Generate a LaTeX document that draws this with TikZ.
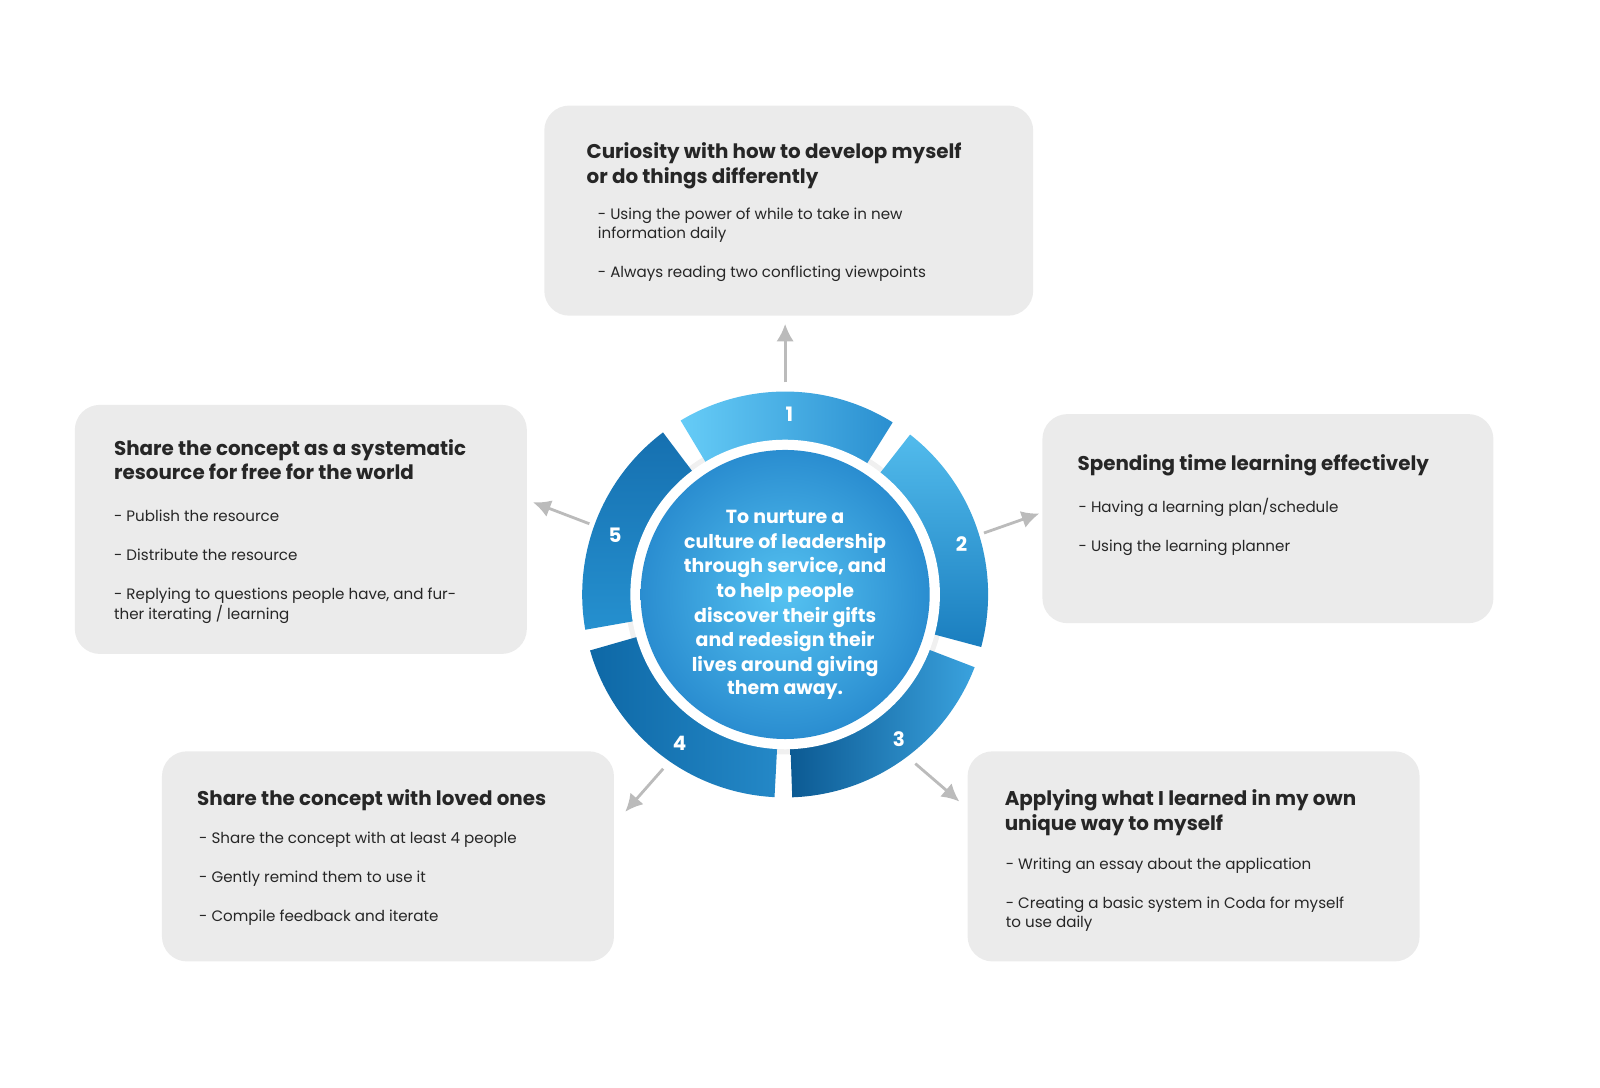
\documentclass[tikz,border=0pt]{standalone}
\usepackage{fontspec}
\setmainfont{Poppins}
\usetikzlibrary{arrows.meta}
\definecolor{boxgray}{HTML}{EBEBEB}
\definecolor{arrgray}{HTML}{BBBBBB}
\definecolor{HexA}{HTML}{66CCF7}
\definecolor{HexB}{HTML}{2A8FD0}
\definecolor{HexC}{HTML}{52BBEC}
\definecolor{HexD}{HTML}{1A7EBF}
\definecolor{HexE}{HTML}{0C5A93}
\definecolor{HexF}{HTML}{3AA2DE}
\definecolor{HexG}{HTML}{0E68A6}
\definecolor{HexH}{HTML}{2488C7}
\definecolor{HexI}{HTML}{1670B0}
\definecolor{HexJ}{HTML}{2590CF}
\definecolor{HexK}{HTML}{55C2F1}
\definecolor{HexL}{HTML}{2A8DD0}
\begin{document}
\begin{tikzpicture}[x=0.0205cm,y=-0.0205cm,
  box/.style={fill=boxgray,rounded corners=0.5cm},
  ttl/.style={anchor=base west,inner sep=0,font=\fontsize{11.3}{13}\selectfont\bfseries,text=black!85},
  bod/.style={anchor=base west,inner sep=0,font=\fontsize{8.6}{10}\selectfont,text=black!85},
  ctr/.style={anchor=base,inner sep=0,font=\fontsize{10.8}{12}\selectfont\bfseries,text=white},
  num/.style={inner sep=0,font=\fontsize{11.3}{12}\selectfont\bfseries,text=white},
  arr/.style={draw=arrgray,line width=1.6pt,-{Latex[length=10pt,width=10pt]}},
]
\useasboundingbox (0,0) rectangle (1561,1061);
% boxes
\fill[box] (531,103) rectangle (1008,308);
\fill[box] (1017,404) rectangle (1457,608);
\fill[box] (944,733) rectangle (1385,938);
\fill[box] (158,733) rectangle (599,938);
\fill[box] (73,395) rectangle (514,638);
% wheel
\coordinate (c) at (766,580);
\begin{scope}[shift={(766,580)},x=0.0205cm,y=0.0205cm]
\fill[black!6] (0,0) circle (156);
\shade[left color=HexA,right color=HexB] (58:198) arc[start angle=58,end angle=121,radius=198] -- (121:150) arc[start angle=121,end angle=58,radius=150] -- cycle;
\shade[top color=HexC,bottom color=HexD] (52:198) arc[start angle=52,end angle=-15,radius=198] -- (-15:150) arc[start angle=-15,end angle=52,radius=150] -- cycle;
\shade[left color=HexE,right color=HexF] (-21:198) arc[start angle=-21,end angle=-88,radius=198] -- (-88:150) arc[start angle=-88,end angle=-21,radius=150] -- cycle;
\shade[left color=HexG,right color=HexH] (196:198) arc[start angle=196,end angle=267,radius=198] -- (267:150) arc[start angle=267,end angle=196,radius=150] -- cycle;
\shade[top color=HexI,bottom color=HexJ] (127:198) arc[start angle=127,end angle=190,radius=198] -- (190:150) arc[start angle=190,end angle=127,radius=150] -- cycle;
\fill[white] (0,0) circle (151);
\shade[inner color=HexK,outer color=HexL] (0,0) circle (141);
\end{scope}
\node[num] (n1) at (770,404) {1};
\node[num] (n2) at (938,531) {2};
\node[num] (n3) at (877,721) {3};
\node[num] (n4) at (663,725) {4};
\node[num] (n5) at (600,522) {5};
% center text
\node[ctr] (c1) at (766,511) {To nurture a};
\node[ctr] (c2) at (766,535) {culture of leadership};
\node[ctr] (c3) at (766,559) {through service, and};
\node[ctr] (c4) at (766,583) {to help people};
\node[ctr] (c5) at (766,607) {discover their gifts};
\node[ctr] (c6) at (766,631) {and redesign their};
\node[ctr] (c7) at (766,655) {lives around giving};
\node[ctr] (c8) at (766,678) {them away.};
% box 1
\node[ttl] (t1a) at (572,155) {Curiosity with how to develop myself};
\node[ttl] (t1b) at (572,179) {or do things differently};
\node[bod] (b1a) at (583,214) {- Using the power of while to take in new};
\node[bod] (b1b) at (583,233) {information daily};
\node[bod] (b1c) at (583,271) {- Always reading two conflicting viewpoints};
% box 2
\node[ttl] (t2a) at (1051,459) {Spending time learning effectively};
\node[bod] (b2a) at (1052,500) {- Having a learning plan/schedule};
\node[bod] (b2b) at (1052,538) {- Using the learning planner};
% box 3
\node[ttl] (t3a) at (980,786) {Applying what I learned in my own};
\node[ttl] (t3b) at (980,810) {unique way to myself};
\node[bod] (b3a) at (981,848) {- Writing an essay about the application};
\node[bod] (b3b) at (981,886) {- Creating a basic system in Coda for myself};
\node[bod] (b3c) at (981,905) {to use daily};
% box 4
\node[ttl] (t4a) at (192,786) {Share the concept with loved ones};
\node[bod] (b4a) at (194,823) {- Share the concept with at least 4 people};
\node[bod] (b4b) at (194,861) {- Gently remind them to use it};
\node[bod] (b4c) at (194,899) {- Compile feedback and iterate};
% box 5
\node[ttl] (t5a) at (111,444) {Share the concept as a systematic};
\node[ttl] (t5b) at (111,468) {resource for free for the world};
\node[bod] (b5a) at (111,509) {- Publish the resource};
\node[bod] (b5b) at (111,547) {- Distribute the resource};
\node[bod] (b5c) at (111,585) {- Replying to questions people have, and fur-};
\node[bod] (b5d) at (111,604) {ther iterating / learning};
% arrows
\coordinate (a1s) at (766,373); \coordinate (a1e) at (766,316);
\coordinate (a2s) at (960,520); \coordinate (a2e) at (1014,501);
\coordinate (a3s) at (893,745); \coordinate (a3e) at (936,782);
\coordinate (a4s) at (647,750); \coordinate (a4e) at (610,792);
\coordinate (a5s) at (575,511); \coordinate (a5e) at (520,490);
\draw[arr] (a1s) -- (a1e);
\draw[arr] (a2s) -- (a2e);
\draw[arr] (a3s) -- (a3e);
\draw[arr] (a4s) -- (a4e);
\draw[arr] (a5s) -- (a5e);
\end{tikzpicture}
\end{document}
